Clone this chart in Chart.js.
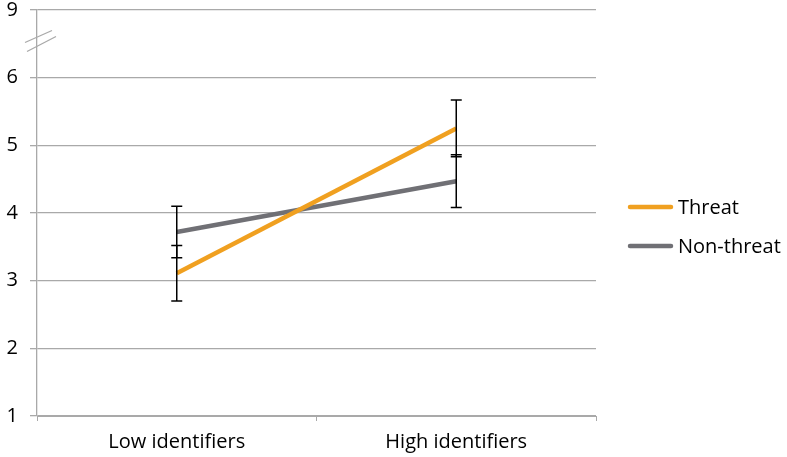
<!DOCTYPE html>
<html>
<head>
<meta charset="utf-8">
<script src="https://cdn.jsdelivr.net/npm/chart.js@4"></script>
<style>
  html, body { margin: 0; padding: 0; background: #fff; }
  #wrap { width: 787px; height: 457px; position: relative; }
</style>
</head>
<body>
<div id="wrap"><canvas id="chart"></canvas></div>
<script>
// data
const categories = ['Low identifiers', 'High identifiers'];
const threatMeans = [3.11, 5.25];
const threatErr = [0.41, 0.42];
const nonThreatMeans = [3.72, 4.47];
const nonThreatErr = [0.38, 0.39];

// axis is broken between 6 and 9: position 7 carries the "9" label
const yTickValues = [1, 2, 3, 4, 5, 6, 7];
const yTickLabels = ['1', '2', '3', '4', '5', '6', '9'];
const breakAt = 6.52;

const gridColor = '#a9a9a9';
const fontSpec = { family: "'Open Sans', sans-serif", size: 20 };

// error bars for both series, drawn at the category centre
const errorBars = {
    id: 'errorBars',
    afterDatasetsDraw(chart) {
        const ctx = chart.ctx;
        const x = chart.scales.x, y = chart.scales.y;
        const sets = [[threatMeans, threatErr], [nonThreatMeans, nonThreatErr]];
        ctx.save();
        ctx.strokeStyle = '#000';
        ctx.lineWidth = 1.5;
        sets.forEach(([means, errs]) => {
            means.forEach((m, i) => {
                const px = x.getPixelForValue(i);
                const top = y.getPixelForValue(m + errs[i]);
                const bot = y.getPixelForValue(m - errs[i]);
                ctx.beginPath();
                ctx.moveTo(px, top); ctx.lineTo(px, bot);
                ctx.moveTo(px - 5.5, top); ctx.lineTo(px + 5.5, top);
                ctx.moveTo(px - 5.5, bot); ctx.lineTo(px + 5.5, bot);
                ctx.stroke();
            });
        });
        ctx.restore();
    }
};

// the two slashes marking the axis break
const axisBreak = {
    id: 'axisBreak',
    afterDraw(chart) {
        const ctx = chart.ctx;
        const x0 = chart.chartArea.left;
        const y0 = chart.scales.y.getPixelForValue(breakAt);
        ctx.save();
        ctx.strokeStyle = gridColor;
        ctx.lineWidth = 1.3;
        ctx.beginPath();
        ctx.moveTo(x0 - 12, y0); ctx.lineTo(x0 + 15, y0 - 12);
        ctx.moveTo(x0 - 10, y0 + 9); ctx.lineTo(x0 + 19, y0 - 6);
        ctx.stroke();
        ctx.restore();
    }
};

// legend to the right of the plot, items as short thick lines
const sideLegend = {
    id: 'sideLegend',
    afterDraw(chart) {
        const ctx = chart.ctx;
        const area = chart.chartArea;
        const mid = (area.top + area.bottom) / 2;
        ctx.save();
        ctx.font = `${fontSpec.size}px ${fontSpec.family}`;
        ctx.textBaseline = 'middle';
        ctx.fillStyle = '#000';
        chart.data.datasets.forEach((ds, i) => {
            const yy = mid - 6 + i * 39;
            const x0 = area.right + 32;
            ctx.strokeStyle = ds.borderColor;
            ctx.lineWidth = 4.5;
            ctx.lineCap = 'round';
            ctx.beginPath();
            ctx.moveTo(x0 + 2, yy); ctx.lineTo(x0 + 43, yy);
            ctx.stroke();
            ctx.fillText(ds.label, x0 + 50, yy + 1);
        });
        ctx.restore();
    }
};

new Chart(document.getElementById('chart'), {
    type: 'line',
    data: {
        labels: categories,
        datasets: [
            {
                label: 'Threat',
                data: threatMeans,
                borderColor: '#f0a020',
                backgroundColor: '#f0a020',
                borderWidth: 4.5,
                pointRadius: 0,
                fill: false
            },
            {
                label: 'Non-threat',
                data: nonThreatMeans,
                borderColor: '#707075',
                backgroundColor: '#707075',
                borderWidth: 4.5,
                pointRadius: 0,
                fill: false
            }
        ]
    },
    options: {
        responsive: true,
        maintainAspectRatio: false,
        animation: false,
        layout: { padding: { top: 10, right: 191, bottom: 0, left: 0 } },
        plugins: {
            tooltip: { enabled: false },
            legend: { display: false }
        },
        scales: {
            x: {
                offset: true,
                grid: {
                    offset: true,
                    drawOnChartArea: false,
                    drawTicks: true,
                    tickLength: 5,
                    color: gridColor
                },
                border: { display: true, color: gridColor },
                ticks: { color: '#000', font: fontSpec, padding: 9, maxRotation: 0 },
                afterFit(scale) {
                    scale.height = 41;
                    scale.paddingLeft = 0;
                    scale.paddingRight = 0;
                }
            },
            y: {
                min: 1,
                max: 7,
                afterBuildTicks(scale) {
                    scale.ticks = yTickValues.map(v => ({ value: v }));
                },
                grid: { color: gridColor, tickLength: 7, lineWidth: 1.3 },
                border: { display: true, color: gridColor, width: 1.3 },
                ticks: {
                    color: '#000',
                    font: fontSpec,
                    padding: 12,
                    callback: (v) => yTickLabels[yTickValues.indexOf(v)]
                },
                afterFit(scale) {
                    scale.width = 37;
                    scale.paddingTop = 0;
                    scale.paddingBottom = 0;
                }
            }
        }
    },
    plugins: [errorBars, axisBreak, sideLegend]
});
</script>
</body>
</html>
